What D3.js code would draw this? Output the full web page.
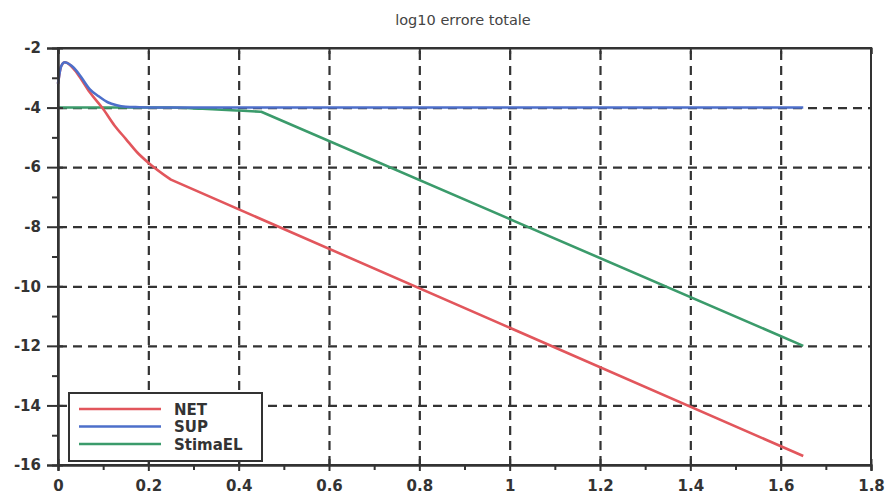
<!DOCTYPE html>
<html>
<head>
<meta charset="utf-8">
<script src="https://d3js.org/d3.v7.min.js"></script>
<style>
body {margin: 0; background: #fff;}
svg text {font-family: "DejaVu Sans", sans-serif; fill: #333;}
.tick text {font-weight: bold; font-size: 15px;}
</style>
</head>
<body>
<svg id="chart" width="886" height="498"></svg>
<script>
// values (log10 of the error)
var netX = [0, 0.005, 0.01, 0.015, 0.02, 0.03, 0.04, 0.05, 0.07, 0.1, 0.125, 0.15, 0.175, 0.2, 0.25, 1.65];
var netY = [-3.2, -2.72, -2.53, -2.48, -2.5, -2.62, -2.8, -3.02, -3.48, -4.05, -4.6, -5.05, -5.5, -5.85, -6.42, -15.7];
var supX = [0, 0.005, 0.01, 0.015, 0.02, 0.03, 0.04, 0.05, 0.07, 0.09, 0.11, 0.13, 0.15, 0.18, 0.2, 1.65];
var supY = [-3.2, -2.72, -2.53, -2.48, -2.5, -2.6, -2.75, -2.95, -3.38, -3.62, -3.82, -3.92, -3.97, -3.99, -4.0, -4.0];
var elX = [0, 0.25, 0.32, 0.4, 0.45, 1.65];
var elY = [-4.0, -4.0, -4.04, -4.1, -4.14, -12.0];
var seriesNames = ["NET", "SUP", "StimaEL"];
var seriesColors = ["#e2565c", "#4d6fca", "#3b9b6b"];
var xTicks = [0, 0.2, 0.4, 0.6, 0.8, 1, 1.2, 1.4, 1.6, 1.8];
var yTicks = [-2, -4, -6, -8, -10, -12, -14, -16];
var xMinor = [0.1, 0.3, 0.5, 0.7, 0.9, 1.1, 1.3, 1.5, 1.7];
var yMinor = [-3, -5, -7, -9, -11, -13, -15];
var title = "log10 errore totale";

var pLeft = 58, pRight = 871, pTop = 48, pBottom = 465;
var svg = d3.select("#chart");
var x = d3.scaleLinear().domain([0, 1.8]).range([pLeft, pRight]);
var y = d3.scaleLinear().domain([-16, -2]).range([pBottom, pTop]);
var fmt = d => String(d);

// dashed grid
svg.append("g").attr("transform", "translate(0," + pBottom + ")")
    .call(d3.axisBottom(x).tickValues(xTicks.slice(1, -1)).tickSize(-(pBottom - pTop)).tickFormat(""))
    .call(g => g.select(".domain").remove())
    .selectAll("line").attr("stroke", "#333").attr("stroke-width", 2.2).attr("stroke-dasharray", "9,6");
svg.append("g").attr("transform", "translate(" + pLeft + ",0)")
    .call(d3.axisLeft(y).tickValues(yTicks.slice(1, -1)).tickSize(-(pRight - pLeft)).tickFormat(""))
    .call(g => g.select(".domain").remove())
    .selectAll("line").attr("stroke", "#333").attr("stroke-width", 2.2).attr("stroke-dasharray", "9,6");

// frame
svg.append("rect").attr("x", pLeft).attr("y", pTop).attr("width", pRight - pLeft).attr("height", pBottom - pTop)
    .attr("fill", "none").attr("stroke", "#333").attr("stroke-width", 2);

// curves: smooth for the dense start, straight for the long tail
var smooth = d3.line().x(d => x(d[0])).y(d => y(d[1])).curve(d3.curveMonotoneX);
var straight = d3.line().x(d => x(d[0])).y(d => y(d[1]));
var sets = [d3.zip(netX, netY), d3.zip(supX, supY), d3.zip(elX, elY)];
[2, 0, 1].forEach(function(i) {
    var pts = sets[i], n = pts.length;
    svg.append("path").attr("d", smooth(pts.slice(0, n - 1)) + straight(pts.slice(n - 2)).replace("M", "L"))
        .attr("fill", "none").attr("stroke", seriesColors[i]).attr("stroke-width", 2.6)
        .attr("stroke-linejoin", "round");
});

// axes
var xAxis = svg.append("g").attr("transform", "translate(0," + pBottom + ")")
    .call(d3.axisBottom(x).tickValues(xTicks).tickSize(6).tickPadding(9).tickFormat(fmt));
xAxis.selectAll(".tick line").attr("y1", -6);
svg.append("g").attr("transform", "translate(0," + pBottom + ")")
    .call(d3.axisBottom(x).tickValues(xMinor).tickSize(5).tickFormat(""));
svg.append("g").attr("transform", "translate(0," + pTop + ")")
    .call(d3.axisBottom(x).tickValues(xTicks).tickSize(6).tickFormat(""));
var yAxis = svg.append("g").attr("transform", "translate(" + pLeft + ",0)")
    .call(d3.axisLeft(y).tickValues(yTicks).tickSize(11).tickPadding(6).tickFormat(fmt));
yAxis.selectAll(".tick line").attr("x1", 5);
svg.append("g").attr("transform", "translate(" + pLeft + ",0)")
    .call(d3.axisLeft(y).tickValues(yMinor).tickSize(6).tickFormat(""));
svg.selectAll(".domain").attr("stroke", "#333").attr("stroke-width", 2);
svg.selectAll(".tick line").filter(function() { return !this.getAttribute("stroke-dasharray"); })
    .attr("stroke", "#333").attr("stroke-width", 2);

// title
svg.append("text").attr("x", 463).attr("y", 25).attr("text-anchor", "middle")
    .style("font-size", "14.5px").style("fill", "#444").text(title);

// legend
var lg = svg.append("g");
lg.append("rect").attr("x", 69).attr("y", 393).attr("width", 193).attr("height", 68)
    .attr("fill", "#fff").attr("stroke", "#333").attr("stroke-width", 2);
seriesNames.forEach(function(n, i) {
    var ly = 409 + i * 17.5;
    lg.append("line").attr("x1", 79).attr("x2", 161).attr("y1", ly).attr("y2", ly)
        .attr("stroke", seriesColors[i]).attr("stroke-width", 2.6);
    lg.append("text").attr("x", 174).attr("y", ly + 5.5).style("font-size", "15px")
        .style("font-weight", "bold").text(n);
});
</script>
</body>
</html>
